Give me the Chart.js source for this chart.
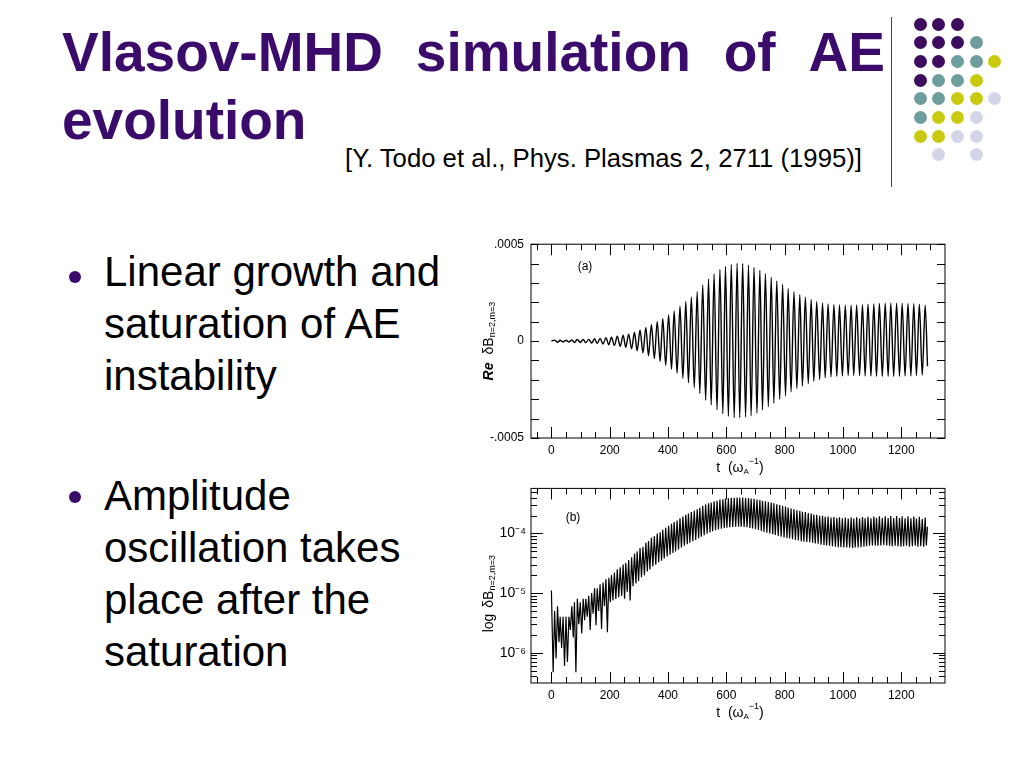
<!DOCTYPE html>
<html>
<head>
<meta charset="utf-8">
<script src="https://cdn.jsdelivr.net/npm/chart.js@4/dist/chart.umd.min.js"></script>
<style>
  body { margin: 0; width: 1024px; height: 768px; background: #fff; position: relative; overflow: hidden;
         font-family: "Liberation Sans", Arial, sans-serif; color: #000; }
  .abs { position: absolute; }
  #title1 { left: 62px; top: 25px; width: 823px; display: flex; justify-content: space-between;
            font-size: 55px; font-weight: bold; line-height: 1; color: #3b0b6b; }
  #title2 { left: 62px; top: 93px; font-size: 55px; font-weight: bold; line-height: 1; color: #3b0b6b; }
  #cite { left: 345px; top: 146px; font-size: 25.7px; line-height: 1; white-space: nowrap; }
  #vline { left: 891px; top: 17px; width: 1px; height: 170px; background: #444; }
  .bl { left: 104px; font-size: 42px; line-height: 52px; white-space: nowrap; }
  .bdot { width: 12px; height: 12px; border-radius: 50%; background: #3b0b6b; }
  .dot { width: 13px; height: 13px; border-radius: 50%; }
  .box { position: absolute; left: 470px; width: 480px; height: 250px; }
</style>
</head>
<body>
<div id="title1" class="abs"><span>Vlasov-MHD</span><span>simulation</span><span>of</span><span>AE</span></div>
<div id="title2" class="abs">evolution</div>
<div id="cite" class="abs">[Y. Todo et al., Phys. Plasmas 2, 2711 (1995)]</div>
<div id="vline" class="abs"></div>
<div id="dots"></div>

<div class="abs bdot" style="left:69px;top:271px"></div>
<div class="abs bl" style="top:246px">Linear growth and<br>saturation of AE<br>instability</div>
<div class="abs bdot" style="left:69px;top:491px"></div>
<div class="abs bl" style="top:470px">Amplitude<br>oscillation takes<br>place after the<br>saturation</div>

<div class="box" style="top:230px"><canvas id="chartA"></canvas></div>
<div class="box" style="top:475px"><canvas id="chartB"></canvas></div>

<script>
// ---- data ----
// times of the extrema of Re dB (t in 1/omega_A), start and end point included
const tExt = [0, 11, 21, 30, 40, 50, 60, 70, 79, 89,
  99, 109, 118, 128, 138, 148, 157, 167, 177, 187,
  197, 206, 216, 226, 236, 246, 255, 265, 275, 285,
  294, 304, 314, 324, 333, 343, 353, 363, 373, 382,
  392, 402, 412, 421, 431, 441, 451, 461, 470, 480,
  490, 500, 509, 519, 529, 539, 548, 558, 568, 578,
  588, 597, 607, 617, 627, 637, 646, 656, 666, 676,
  685, 695, 705, 715, 724, 734, 744, 754, 763, 773,
  783, 793, 803, 812, 822, 832, 842, 852, 861, 871,
  881, 891, 900, 910, 920, 930, 939, 949, 959, 969,
  979, 988, 998, 1008, 1018, 1028, 1037, 1047, 1057, 1067,
  1076, 1086, 1096, 1106, 1115, 1125, 1135, 1145, 1155, 1164,
  1174, 1184, 1194, 1203, 1213, 1223, 1233, 1243, 1252, 1262,
  1272, 1282, 1290];

// Re dB_{n=2,m=3} at those times, in units of 1e-4
const reExt = [0, 0.05, -0.06, 0.04, -0.04, 0.04, -0.04, 0.06, -0.07, 0.08,
  -0.07, 0.08, -0.08, 0.09, -0.10, 0.12, -0.12, 0.14, -0.15, 0.17,
  -0.18, 0.20, -0.22, 0.25, -0.27, 0.30, -0.32, 0.36, -0.40, 0.46,
  -0.50, 0.57, -0.60, 0.70, -0.75, 0.85, -0.90, 1.00, -1.05, 1.15,
  -1.25, 1.35, -1.45, 1.55, -1.65, 1.80, -1.92, 2.05, -2.15, 2.28,
  -2.40, 2.55, -2.70, 2.90, -3.05, 3.20, -3.30, 3.45, -3.55, 3.70,
  -3.75, 3.85, -3.88, 3.95, -3.95, 4.02, -3.95, 4.00, -3.92, 3.92,
  -3.85, 3.80, -3.72, 3.65, -3.55, 3.48, -3.38, 3.30, -3.20, 3.10,
  -3.00, 2.92, -2.82, 2.72, -2.62, 2.55, -2.45, 2.40, -2.32, 2.28,
  -2.20, 2.15, -2.08, 2.05, -1.98, 1.97, -1.90, 1.92, -1.85, 1.88,
  -1.82, 1.86, -1.80, 1.85, -1.78, 1.85, -1.78, 1.86, -1.78, 1.88,
  -1.80, 1.90, -1.80, 1.92, -1.82, 1.94, -1.82, 1.95, -1.82, 1.96,
  -1.82, 1.96, -1.82, 1.95, -1.80, 1.94, -1.80, 1.93, -1.78, 1.90,
  -1.75, 1.85, -1.30];

// panel (b): the low points of |dB| between the maxima (first one is the start spike)
const tLow = [0, 6, 16, 26, 35, 45, 55, 65, 75, 84,
  94, 104, 114, 123, 133, 143, 153, 162, 172, 182,
  192, 202, 211, 221, 231, 241, 251, 260, 270, 280,
  290, 299, 309, 319, 329, 338, 348, 358, 368, 378,
  387, 397, 407, 417, 426, 436, 446, 456, 466, 475,
  485, 495, 505, 514, 524, 534, 544, 553, 563, 573,
  583, 593, 602, 612, 622, 632, 642, 651, 661, 671,
  681, 690, 700, 710, 720, 729, 739, 749, 759, 768,
  778, 788, 798, 808, 817, 827, 837, 847, 857, 866,
  876, 886, 896, 905, 915, 925, 935, 944, 954, 964,
  974, 984, 993, 1003, 1013, 1023, 1033, 1042, 1052, 1062,
  1072, 1081, 1091, 1101, 1111, 1120, 1130, 1140, 1150, 1160,
  1169, 1179, 1189, 1199, 1208, 1218, 1228, 1238, 1248, 1257,
  1267, 1277, 1286];

// |dB| at those times, in units of 1e-5
const logLow = [1.1, 0.047, 0.08, 0.15, 0.12, 0.06, 0.07, 0.24, 0.18, 0.047,
  0.30, 0.21, 0.35, 0.40, 0.24, 0.45, 0.29, 0.50, 0.25, 0.60,
  0.22, 0.70, 0.75, 0.80, 0.85, 0.90, 0.80, 1.05, 0.75, 1.30,
  1.45, 1.60, 1.85, 2.0, 2.3, 2.5, 2.8, 3.0, 3.3, 3.5,
  3.8, 4.1, 4.4, 4.7, 5.0, 5.4, 5.8, 6.2, 6.6, 7.0,
  7.4, 7.8, 8.3, 8.8, 9.3, 9.9, 10.4, 10.9, 11.3, 11.7,
  12.0, 12.3, 12.5, 12.7, 12.9, 13.0, 13.0, 13.0, 12.9, 12.7,
  12.4, 12.1, 11.8, 11.4, 11.0, 10.6, 10.3, 10.0, 9.7, 9.4,
  9.1, 8.8, 8.6, 8.4, 8.2, 8.0, 7.8, 7.6, 7.4, 7.3,
  7.2, 7.1, 7.0, 6.8, 6.7, 6.5, 6.4, 6.3, 6.2, 6.1,
  6.0, 5.9, 5.9, 5.8, 5.8, 5.8, 5.7, 5.8, 5.8, 5.9,
  6.0, 6.1, 6.2, 6.3, 6.3, 6.2, 6.3, 6.4, 6.3, 6.2,
  6.1, 6.2, 6.1, 6.0, 6.1, 6.2, 6.0, 6.1, 6.2, 6.0,
  6.1, 6.0, 6.3];

// axes
const xMajor = [0, 200, 400, 600, 800, 1000, 1200];
const xMinor = [-50, 50, 100, 150, 250, 300, 350, 450, 500, 550, 650, 700, 750,
  850, 900, 950, 1050, 1100, 1150, 1250, 1300];
const yTicksA = [-0.0005, 0, 0.0005];
const yLabelsA = ['-.0005', '0', '.0005'];
const yMinorA = [-0.0004, -0.0003, -0.0002, -0.0001, 0.0001, 0.0002, 0.0003, 0.0004];
const yTicksB = [1e-6, 1e-5, 1e-4];
const yLabelsB = ['10\u207B\u2076', '10\u207B\u2075', '10\u207B\u2074'];
const yMinorB = [4e-7, 5e-7, 6e-7, 7e-7, 8e-7, 9e-7,
  2e-6, 3e-6, 4e-6, 5e-6, 6e-6, 7e-6, 8e-6, 9e-6,
  2e-5, 3e-5, 4e-5, 5e-5, 6e-5, 7e-5, 8e-5, 9e-5,
  2e-4, 3e-4, 4e-4, 5e-4];

// decoration dots, top right (P purple, T teal, Y yellow, L lavender)
const dotRows = ['PPP', 'PPPT', 'PPTTY', 'PTTY', 'TTYYL', 'TYYL', 'YYLL', ' L L'];
const dotColors = { P: '#3d0c5e', T: '#6e9d9d', Y: '#c9c910', L: '#d5d5ea' };
const dotsBox = document.getElementById('dots');
dotRows.forEach((row, r) => {
  [...row].forEach((c, k) => {
    if (c === ' ') return;
    const d = document.createElement('div');
    d.className = 'abs dot';
    d.style.left = (913.5 + k * 18.7) + 'px';
    d.style.top = (17.5 + r * 18.7) + 'px';
    d.style.background = dotColors[c];
    dotsBox.appendChild(d);
  });
});

Chart.defaults.font.family = '"Liberation Sans", Arial, sans-serif';
Chart.defaults.color = '#000';

const FONT = '"Liberation Sans", Arial, sans-serif';

function drawRich(ctx, parts, cx, cy, angle) {
  ctx.save();
  ctx.translate(cx, cy);
  ctx.rotate(angle);
  ctx.textBaseline = 'middle';
  ctx.textAlign = 'left';
  let total = 0;
  parts.forEach(p => { ctx.font = p.font; total += ctx.measureText(p.t).width + (p.gap || 0); });
  let x = -total / 2;
  parts.forEach(p => {
    ctx.font = p.font;
    ctx.fillText(p.t, x, p.dy || 0);
    x += ctx.measureText(p.t).width + (p.gap || 0);
  });
  ctx.restore();
}

// frame, inward ticks on all four sides, rich axis titles, panel label
const framePlugin = {
  id: 'frame',
  afterDraw(chart, args, o) {
    const { ctx, chartArea: a, scales } = chart;
    const xs = scales.x, ys = scales.y;
    ctx.save();
    ctx.strokeStyle = '#000';
    ctx.lineWidth = 1;
    ctx.strokeRect(a.left, a.top, a.right - a.left, a.bottom - a.top);
    ctx.beginPath();
    const xt = (vals, len) => vals.forEach(v => {
      const px = Math.round(xs.getPixelForValue(v)) + 0.5;
      ctx.moveTo(px, a.bottom); ctx.lineTo(px, a.bottom - len);
      ctx.moveTo(px, a.top); ctx.lineTo(px, a.top + len);
    });
    const yt = (vals, len) => vals.forEach(v => {
      const py = Math.round(ys.getPixelForValue(v)) + 0.5;
      ctx.moveTo(a.left, py); ctx.lineTo(a.left + len, py);
      ctx.moveTo(a.right, py); ctx.lineTo(a.right - len, py);
    });
    xt(o.xMajor, 11); xt(o.xMinor, 6);
    yt(o.yMajor, o.yMajorLen); yt(o.yMinor, o.yMinorLen);
    ctx.stroke();

    ctx.fillStyle = '#000';
    drawRich(ctx, o.yTitle, a.left - 42, (a.top + a.bottom) / 2 + o.yTitleShift, -Math.PI / 2);
    drawRich(ctx, [
      { t: 't  (\u03C9', font: '14px ' + FONT },
      { t: 'A', font: '8px ' + FONT, dy: 4 },
      { t: '\u22121', font: '9px ' + FONT, dy: -6 },
      { t: ')', font: '14px ' + FONT }
    ], (a.left + a.right) / 2 + 2, a.bottom + 30, 0);
    ctx.font = '12px ' + FONT;
    ctx.textAlign = 'center';
    ctx.textBaseline = 'middle';
    ctx.fillText(o.label, a.left + o.labelDx, a.top + o.labelDy);
    ctx.restore();
  }
};

function xScale() {
  return {
    type: 'linear', min: -70, max: 1350,
    grid: { display: false, drawTicks: false }, border: { display: false },
    afterBuildTicks: s => { s.ticks = xMajor.map(v => ({ value: v })); },
    afterFit: s => { s.height = 42; },
    ticks: { padding: 5, autoSkip: false, maxRotation: 0, font: { size: 12 }, callback: v => String(v) }
  };
}

// panel (a): Re dB
const ptsA = tExt.map((t, i) => ({ x: t, y: reExt[i] * 1e-4 }));

new Chart(document.getElementById('chartA'), {
  type: 'line',
  data: { datasets: [{ data: ptsA, borderColor: '#000', borderWidth: 1.4, pointRadius: 0,
                       cubicInterpolationMode: 'monotone', fill: false }] },
  options: {
    responsive: true, maintainAspectRatio: false, animation: false,
    layout: { padding: { top: 10, right: 5, left: 0, bottom: 0 } },
    plugins: {
      legend: { display: false }, tooltip: { enabled: false },
      frame: {
        xMajor: xMajor, xMinor: xMinor, yMajor: yTicksA, yMinor: yMinorA, yMajorLen: 8, yMinorLen: 8,
        yTitle: [
          { t: 'Re', font: 'italic bold 14px ' + FONT, gap: 8 },
          { t: '\u03B4B', font: '14px ' + FONT },
          { t: 'n=2,m=3', font: '9px ' + FONT, dy: 4 }
        ],
        yTitleShift: 0, label: '(a)', labelDx: 54, labelDy: 22
      }
    },
    scales: {
      x: xScale(),
      y: {
        type: 'linear', min: -0.0005, max: 0.0005,
        grid: { display: false, drawTicks: false }, border: { display: false },
        afterBuildTicks: s => { s.ticks = yTicksA.map(v => ({ value: v })); },
        afterFit: s => { s.width = 61; },
        ticks: { padding: 7, font: { size: 12 }, callback: (v, i) => yLabelsA[i] }
      }
    }
  },
  plugins: [framePlugin]
});

// panel (b): log |dB|, maxima are the |extrema| of panel (a)
const ptsB = tExt.map((t, i) => ({ x: t, y: Math.abs(reExt[i]) * 1e-4 }))
  .filter(p => p.y > 0)
  .concat(tLow.map((t, i) => ({ x: t, y: logLow[i] * 1e-5 })))
  .sort((p, q) => p.x - q.x);

new Chart(document.getElementById('chartB'), {
  type: 'line',
  data: { datasets: [{ data: ptsB, borderColor: '#000', borderWidth: 1.2, pointRadius: 0,
                       tension: 0, fill: false }] },
  options: {
    responsive: true, maintainAspectRatio: false, animation: false,
    layout: { padding: { top: 10, right: 5, left: 0, bottom: 0 } },
    plugins: {
      legend: { display: false }, tooltip: { enabled: false },
      frame: {
        xMajor: xMajor, xMinor: xMinor, yMajor: yTicksB, yMinor: yMinorB, yMajorLen: 12, yMinorLen: 6,
        yTitle: [
          { t: 'log', font: '14px ' + FONT, gap: 6 },
          { t: '\u03B4B', font: '14px ' + FONT },
          { t: 'n=2,m=3', font: '9px ' + FONT, dy: 4 }
        ],
        yTitleShift: 8, label: '(b)', labelDx: 42, labelDy: 29
      }
    },
    scales: {
      x: xScale(),
      y: {
        type: 'logarithmic', min: 3.1e-7, max: 5.7e-4,
        grid: { display: false, drawTicks: false }, border: { display: false },
        afterBuildTicks: s => { s.ticks = yTicksB.map(v => ({ value: v })); },
        afterFit: s => { s.width = 61; },
        ticks: { padding: 5, font: { size: 14 }, callback: (v, i) => yLabelsB[i] }
      }
    }
  },
  plugins: [framePlugin]
});
</script>
</body>
</html>
